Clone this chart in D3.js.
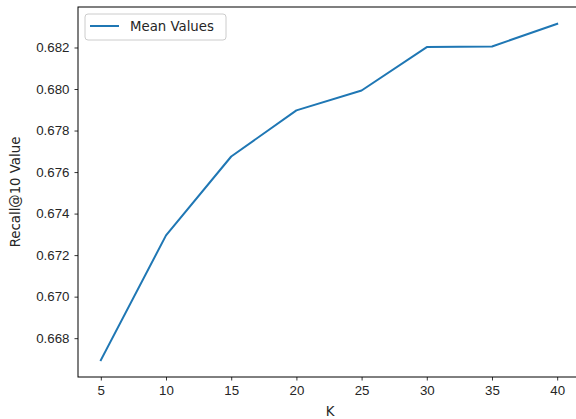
<!DOCTYPE html>
<html>
<head>
<meta charset="utf-8">
<script src="https://cdn.jsdelivr.net/npm/d3@7"></script>
<style>
  body { margin: 0; background: #fff; }
  svg { display: block; font-family: "DejaVu Sans", sans-serif; }
</style>
</head>
<body>
<div id="chart"></div>
<script>
// values
const kValues = [5, 10, 15, 20, 25, 30, 35, 40];
const meanValues = [0.66694, 0.67295, 0.67675, 0.67897, 0.67993, 0.68202, 0.68205, 0.68314];
const xTicks = [5, 10, 15, 20, 25, 30, 35, 40];
const yTicks = [0.668, 0.670, 0.672, 0.674, 0.676, 0.678, 0.680, 0.682];
const seriesName = "Mean Values";

const outerWidth = 576, outerHeight = 419;
const margin = { top: 7, right: -4, bottom: 42, left: 78 };
const width = outerWidth - margin.left - margin.right;
const height = outerHeight - margin.top - margin.bottom;

// matplotlib-style 5% padding around the data
const xExt = d3.extent(kValues), yExt = d3.extent(meanValues);
const xPad = (xExt[1] - xExt[0]) * 0.05, yPad = (yExt[1] - yExt[0]) * 0.05;

let x = d3.scaleLinear().domain([xExt[0] - xPad, xExt[1] + xPad]).range([0, width]);
let y = d3.scaleLinear().domain([yExt[0] - yPad, yExt[1] + yPad]).range([height, 0]);

let svg = d3.select("#chart").append("svg")
  .attr("width", outerWidth)
  .attr("height", outerHeight)
  .append("g")
  .attr("transform", "translate(" + margin.left + "," + margin.top + ")");

// x axis
let xAxis = svg.append("g")
  .attr("transform", "translate(0," + height + ")")
  .call(d3.axisBottom(x).tickValues(xTicks).tickSize(3.5).tickPadding(5).tickFormat(d3.format("d")));

// y axis
let yAxis = svg.append("g")
  .call(d3.axisLeft(y).tickValues(yTicks).tickSize(3.5).tickPadding(5).tickFormat(d3.format(".3f")));

[xAxis, yAxis].forEach(function (g) {
  g.select(".domain").remove();
  g.selectAll("line").attr("stroke", "#000").attr("stroke-width", 0.8);
  g.selectAll("text").attr("fill", "#262626").style("font-size", "13.3px");
});

// frame
svg.append("rect")
  .attr("width", width)
  .attr("height", height)
  .attr("fill", "none")
  .attr("stroke", "#000")
  .attr("stroke-width", 1);

// line
let line = d3.line()
  .x(function (d, i) { return x(kValues[i]); })
  .y(function (d) { return y(d); });

svg.append("path")
  .datum(meanValues)
  .attr("fill", "none")
  .attr("stroke", "#1f77b4")
  .attr("stroke-width", 2)
  .attr("stroke-linejoin", "round")
  .attr("stroke-linecap", "square")
  .attr("d", line);

// axis labels
svg.append("text")
  .attr("x", 330 - margin.left)
  .attr("y", height + 39)
  .attr("text-anchor", "middle")
  .attr("fill", "#262626")
  .style("font-size", "13.3px")
  .text("K");

svg.append("text")
  .attr("transform", "rotate(-90)")
  .attr("x", -height / 2)
  .attr("y", -margin.left + 20)
  .attr("text-anchor", "middle")
  .attr("fill", "#262626")
  .style("font-size", "13.3px")
  .text("Recall@10 Value");

// legend
let legend = svg.append("g").attr("transform", "translate(7,7)");
legend.append("rect")
  .attr("width", 141)
  .attr("height", 26)
  .attr("rx", 3)
  .attr("fill", "#fff")
  .attr("stroke", "#ccc")
  .attr("stroke-width", 1);
legend.append("line")
  .attr("x1", 5).attr("x2", 34)
  .attr("y1", 12).attr("y2", 12)
  .attr("stroke", "#1f77b4")
  .attr("stroke-width", 2);
legend.append("text")
  .attr("x", 45)
  .attr("y", 17)
  .attr("fill", "#262626")
  .style("font-size", "13.3px")
  .text(seriesName);
</script>
</body>
</html>
